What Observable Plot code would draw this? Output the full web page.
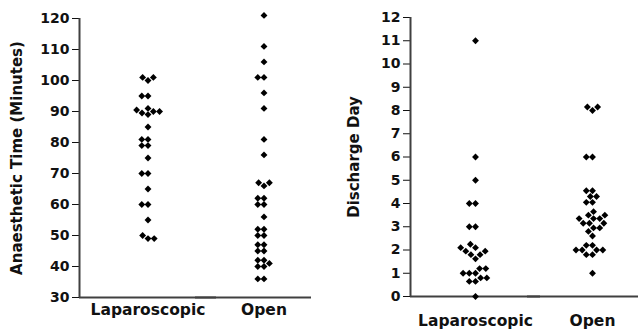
<!DOCTYPE html>
<html><head><meta charset="utf-8">
<script src="https://cdn.jsdelivr.net/npm/d3@7"></script>
<script src="https://cdn.jsdelivr.net/npm/@observablehq/plot@0.6"></script>
<style>
html,body{margin:0;padding:0;background:#fff;}
#wrap{display:flex;width:638px;height:329px;overflow:hidden;}
#wrap svg{font-family:"DejaVu Sans",sans-serif;font-weight:bold;color:#111;overflow:hidden;flex:none;}
g[aria-label="y-axis tick label"] text{font-size:14px;}
g[aria-label="fx-axis tick label"] text{font-size:15.5px;}
g[aria-label="y-axis label"] text{font-size:15px;}
</style></head><body><div id="wrap"></div>
<script>
const groups = ["Laparoscopic", "Open"];
// Anaesthetic time (minutes)
const lapTime = [49, 50, 49, 55, 60, 60, 65, 70, 70, 75, 79, 79, 81, 81, 85, 89, 89.5, 90, 90, 90.5, 91, 95, 95, 100, 101, 101];
const openTime = [36, 36, 40, 40, 41, 42, 42, 45, 45, 47, 47, 50, 50, 52, 52, 56, 60, 60, 62, 62, 66, 67, 67, 76, 81, 91, 96, 101, 101, 106, 111, 121];
// Discharge day
const lapDay = [0, 0.65, 0.65, 0.8, 0.8, 1.0, 1.0, 1.0, 1.2, 1.2, 1.62, 1.8, 1.8, 1.95, 1.95, 2.1, 2.1, 2.25, 3, 3, 4, 4, 5, 6, 11];
const openDay = [1, 1.8, 1.8, 2.0, 2.0, 2.0, 2.0, 2.2, 2.2, 2.6, 2.8, 2.95, 2.95, 3.15, 3.15, 3.15, 3.35, 3.35, 3.35, 3.5, 3.5, 3.65, 4.05, 4.05, 4.3, 4.3, 4.55, 4.55, 6, 6, 8, 8.15, 8.15];
const timeTicks = [30, 40, 50, 60, 70, 80, 90, 100, 110, 120];
const dayTicks = [0, 1, 2, 3, 4, 5, 6, 7, 8, 9, 10, 11, 12];

function rows(a, b) {
  return [...a.map(v => ({group: groups[0], value: v})), ...b.map(v => ({group: groups[1], value: v}))];
}

function panel(data, opts) {
  return Plot.plot({
    width: opts.width, height: 329,
    marginLeft: opts.ml, marginRight: 0, marginTop: opts.mt, marginBottom: opts.mb,
    style: {fontFamily: "DejaVu Sans", fontWeight: "bold", fontSize: "14px", background: "white", overflow: "hidden"},
    fx: {domain: groups, axis: "bottom", label: null, tickSize: 0, tickPadding: opts.fxPad,
         paddingInner: opts.pi, paddingOuter: opts.po, align: 0},
    x: {domain: [0, 1], axis: null},
    y: {domain: opts.domain, ticks: opts.ticks, tickSize: 7, tickPadding: 3,
        label: opts.label, labelArrow: "none", labelAnchor: "center", labelOffset: opts.lo},
    marks: [
      Plot.ruleX([groups[0]], {fx: d => d, x: 0, strokeWidth: 2, stroke: "#404040"}),
      Plot.ruleY([opts.domain[0]], {strokeWidth: 2, stroke: "#404040"}),
      Plot.dot(data, Plot.dodgeX({anchor: "middle", padding: 0},
        {fx: "group", y: "value", r: 3.1, symbol: "diamond2", fill: "black", stroke: "none"}))
    ]
  });
}

const wrap = document.getElementById("wrap");
wrap.appendChild(panel(rows(lapTime, openTime), {
  width: 311, ml: 79, mt: 18, mb: 32, fxPad: 6, pi: -0.17949, po: -0.09829,
  domain: [30, 120], ticks: timeTicks, label: "Anaesthetic Time (Minutes)", lo: 68
}));
wrap.appendChild(panel(rows(lapDay, openDay), {
  width: 327, ml: 99, mt: 17, mb: 33, fxPad: 18, pi: -0.1111, po: -0.0812,
  domain: [0, 12], ticks: dayTicks, label: "Discharge Day", lo: 62
}));
</script></body></html>
